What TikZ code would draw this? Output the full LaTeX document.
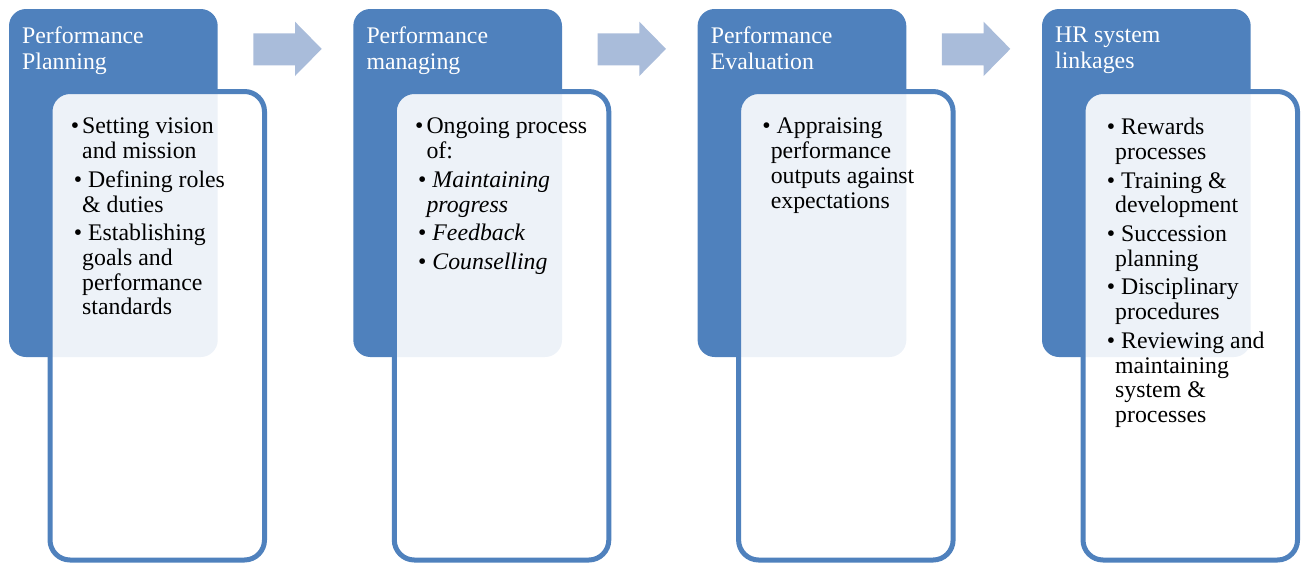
\documentclass[tikz,border=0pt]{standalone}
\usepackage{fontspec}
\setmainfont{Liberation Serif}
\usepackage{tikz}
\definecolor{Stage}{RGB}{79,129,189}
\definecolor{StageArrow}{RGB}{169,188,218}

\newcommand\bul[1][0pt]{\llap{\textbullet\hspace{#1}}}

\tikzset{
    stagebox/.style={fill=Stage, rounded corners=17pt, anchor=north west,
                    inner sep=0, outer sep=0, minimum width=208.7pt, minimum height=348pt},
    listbox/.style={fill=white, fill opacity=0.9, draw=Stage, line width=5pt,
                    rounded corners=20pt, anchor=north west, inner sep=0, outer sep=0,
                    minimum width=214.5pt, minimum height=468.5pt},
    % first line strut, so north west sits 17pt above the first baseline
    stagetitle/.style={anchor=north west, align=left, inner sep=0, text=white,
                    font=\fontsize{23.8}{26}\selectfont,
                    execute at begin node=\rule{0pt}{17pt}},
    stagelist/.style={anchor=north west, align=left, inner sep=0, text=black,
                    font=\fontsize{23.8}{24.7}\selectfont,
                    execute at begin node=\rule{0pt}{17pt}},
    steparrow/.style={fill=StageArrow}
}

\begin{document}
\begin{tikzpicture}[x=1pt, y=-1pt]
    \useasboundingbox (0,0) rectangle (1301,563);

    % block arrows between the stages
    \foreach \s in {0,344.3,688.6}
        \fill[steparrow, xshift=\s pt] (253.3,33.3) -- (295,33.3) -- (295,21.7)
            -- (321.7,48.9) -- (295,76) -- (295,65.3) -- (253.3,65.3) -- cycle;

    % stage 1
    \node [stagebox] (plan) at (9,9) {};
    \node [listbox] (plan list) at (50,91.5) {};
    \node [stagetitle] (plan title) at (22,26.5) {Performance\\Planning};
    \node [stagelist] (plan items) at (82,118) {%
        \bul[3pt]Setting vision\\
        and mission\\[4pt]
        \bul\ Defining roles\\
        \& duties\\[4pt]
        \bul\ Establishing\\
        goals and\\
        performance\\
        standards};

    % stage 2
    \node [stagebox] (manage) at (353.3,9) {};
    \node [listbox] (manage list) at (394.3,91.5) {};
    \node [stagetitle] (manage title) at (366.3,26.5) {Performance\\managing};
    \node [stagelist] (manage items) at (426.3,118) {%
        \bul[3pt]Ongoing process\\
        of:\\[4pt]
        \bul\ \textit{Maintaining}\\
        \textit{progress}\\[4pt]
        \bul\ \textit{Feedback}\\[4pt]
        \bul\ \textit{Counselling}};

    % stage 3
    \node [stagebox] (evaluate) at (697.6,9) {};
    \node [listbox] (evaluate list) at (738.6,91.5) {};
    \node [stagetitle] (evaluate title) at (710.6,26.5) {Performance\\Evaluation};
    \node [stagelist] (evaluate items) at (770.6,118) {%
        \bul\ Appraising\\
        performance\\
        outputs against\\
        expectations};

    % stage 4
    \node [stagebox] (link) at (1042,9) {};
    \node [listbox] (link list) at (1083,91.5) {};
    \node [stagetitle] (link title) at (1055,26.5) {HR system\\linkages};
    \node [stagelist] (link items) at (1115,118) {%
        \bul\ Rewards\\
        processes\\[4pt]
        \bul\ Training \&\\
        development\\[4pt]
        \bul\ Succession\\
        planning\\[4pt]
        \bul\ Disciplinary\\
        procedures\\[4pt]
        \bul\ Reviewing and\\
        maintaining\\
        system \&\\
        processes};
\end{tikzpicture}
\end{document}
